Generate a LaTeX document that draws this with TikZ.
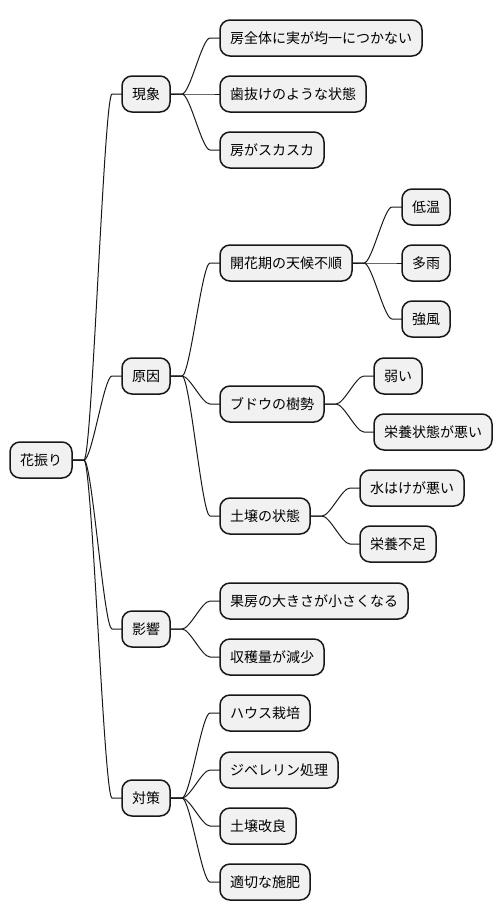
\documentclass[tikz,border=0pt]{standalone}
\usepackage{fontspec}
\usepackage{xcolor}
\usepackage{tikz}
\usetikzlibrary{positioning}
\newfontfamily\jpfont{Noto Sans CJK JP}
\definecolor{linex}{HTML}{181818}
\definecolor{boxbg}{HTML}{F1F1F1}
\tikzset{
  bx/.style={draw=linex,line width=1.5pt,fill=boxbg,rounded corners=10pt,anchor=west,
    minimum height=36pt,inner xsep=10pt,inner ysep=0pt,outer sep=0pt,
    text height=12pt,text depth=1.5pt},
  lk/.style={draw=linex,line width=1pt}
}
\begin{document}
\begin{tikzpicture}[font=\jpfont\fontsize{14pt}{16pt}\selectfont]
\useasboundingbox (0,0) rectangle (502pt,-921pt);
\node[bx] (hb) at (10pt,-460pt) {花振り};
% first level
\node[bx,right=50pt of hb,yshift=366pt] (gs) {現象};
\node[bx,right=50pt of hb,yshift=84pt] (gi) {原因};
\node[bx,right=50pt of hb,yshift=-169pt] (ek) {影響};
\node[bx,right=50pt of hb,yshift=-338pt] (tk) {対策};
% 現象
\node[bx,right=50pt of gs,yshift=56pt] (gs1) {房全体に実が均一につかない};
\node[bx,right=50pt of gs] (gs2) {歯抜けのような状態};
\node[bx,right=50pt of gs,yshift=-56pt] (gs3) {房がスカスカ};
% 原因
\node[bx,right=50pt of gi,yshift=113pt] (gi1) {開花期の天候不順};
\node[bx,right=50pt of gi,yshift=-28pt] (gi2) {ブドウの樹勢};
\node[bx,right=50pt of gi,yshift=-140pt] (gi3) {土壌の状態};
\node[bx,right=50pt of gi1,yshift=56pt] (gi1a) {低温};
\node[bx,right=50pt of gi1] (gi1b) {多雨};
\node[bx,right=50pt of gi1,yshift=-56pt] (gi1c) {強風};
\node[bx,right=50pt of gi2,yshift=28pt] (gi2a) {弱い};
\node[bx,right=50pt of gi2,yshift=-28pt] (gi2b) {栄養状態が悪い};
\node[bx,right=50pt of gi3,yshift=28pt] (gi3a) {水はけが悪い};
\node[bx,right=50pt of gi3,yshift=-28pt] (gi3b) {栄養不足};
% 影響
\node[bx,right=50pt of ek,yshift=28pt] (ek1) {果房の大きさが小さくなる};
\node[bx,right=50pt of ek,yshift=-28pt] (ek2) {収穫量が減少};
% 対策
\node[bx,right=50pt of tk,yshift=85pt] (tk1) {ハウス栽培};
\node[bx,right=50pt of tk,yshift=28pt] (tk2) {ジベレリン処理};
\node[bx,right=50pt of tk,yshift=-28pt] (tk3) {土壌改良};
\node[bx,right=50pt of tk,yshift=-84pt] (tk4) {適切な施肥};
\foreach \p/\q in {hb/gs,hb/gi,hb/ek,hb/tk,gs/gs1,gs/gs2,gs/gs3,gi/gi1,gi/gi2,gi/gi3,
  gi1/gi1a,gi1/gi1b,gi1/gi1c,gi2/gi2a,gi2/gi2b,gi3/gi3a,gi3/gi3b,ek/ek1,ek/ek2,
  tk/tk1,tk/tk2,tk/tk3,tk/tk4}{
  \draw[lk] (\p.east) -- ++(12pt,0) .. controls +(8pt,0) and +(-8pt,0) .. ([xshift=-10pt]\q.west) -- (\q.west);}
\end{tikzpicture}
\end{document}
